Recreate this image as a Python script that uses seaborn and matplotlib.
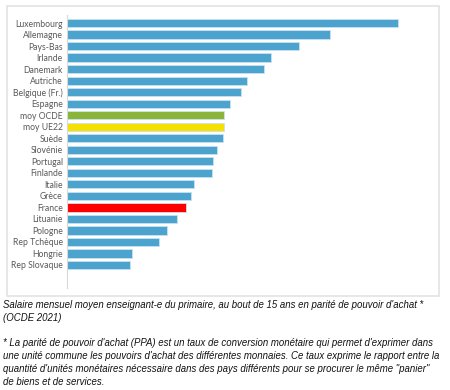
import matplotlib
matplotlib.use("Agg")
import matplotlib.pyplot as plt
import seaborn as sns
import pandas as pd
from matplotlib.patches import Rectangle

# data (arbitrary PPA units)
pays = ["Luxembourg", "Allemagne", "Pays-Bas", "Irlande", "Danemark", "Autriche",
        "Belgique (Fr.)", "Espagne", "moy OCDE", "moy UE22", "Suède", "Slovénie",
        "Portugal", "Finlande", "Italie", "Grèce", "France", "Lituanie", "Pologne",
        "Rep Tchèque", "Hongrie", "Rep Slovaque"]
salaire = [8275, 6575, 5800, 5100, 4925, 4500, 4350, 4075, 3925, 3925, 3900, 3750,
           3650, 3625, 3175, 3100, 2975, 2750, 2500, 2300, 1625, 1575]

bleu = "#4ba3ce"
couleurs = {"moy OCDE": "#8bb53a", "moy UE22": "#f5e000", "France": "#ff0000"}
palette = [couleurs.get(p, bleu) for p in pays]

df = pd.DataFrame({"pays": pays, "salaire": salaire})

sns.set_style("white")
plt.rcParams['font.family'] = ['Lato', 'DejaVu Sans']

fig = plt.figure(figsize=(4.5, 3.9), dpi=100)
# light frame around the chart
fig.patches.append(Rectangle((7/450, 1-296/390), 432/450, 290/390, transform=fig.transFigure,
                             fill=False, edgecolor="#e3e3e3", linewidth=1.2))

ax = fig.add_axes([67/450, 1-288/390, 363/450, 273/390])
sns.barplot(data=df, x="salaire", y="pays", hue="pays", palette=palette, legend=False,
            saturation=1, width=0.72, edgecolor="#c9e3f1", linewidth=0.6, ax=ax)
ax.set_xlim(0, 9075)
ax.set_ylim(23, -0.7)
ax.set_xlabel("")
ax.set_ylabel("")
ax.set_xticks([])
sns.despine(ax=ax, top=True, right=True, bottom=True, left=False)
ax.spines["left"].set_color("#d9d9d9")
ax.spines["left"].set_linewidth(0.8)
ax.tick_params(axis="y", length=0, pad=3, labelsize=6.2, labelcolor="#595959")

# captions
cap = {"family": ["Liberation Sans", "DejaVu Sans"], "style": "italic", "size": 6.9, "color": "#111111"}
fig.text(3/450, 1-300/390,
         "Salaire mensuel moyen enseignant-e du primaire, au bout de 15 ans en parité de pouvoir d'achat *\n(OCDE 2021)",
         va="top", ha="left", linespacing=1.38, **cap)
fig.text(3/450, 1-338/390,
         "* La parité de pouvoir d'achat (PPA) est un taux de conversion monétaire qui permet d'exprimer dans\n"
         "une unité commune les pouvoirs d'achat des différentes monnaies. Ce taux exprime le rapport entre la\n"
         "quantité d'unités monétaires nécessaire dans des pays différents pour se procurer le même \"panier\"\n"
         "de biens et de services.",
         va="top", ha="left", linespacing=1.38, **cap)

fig.savefig("out.png", dpi=100)
